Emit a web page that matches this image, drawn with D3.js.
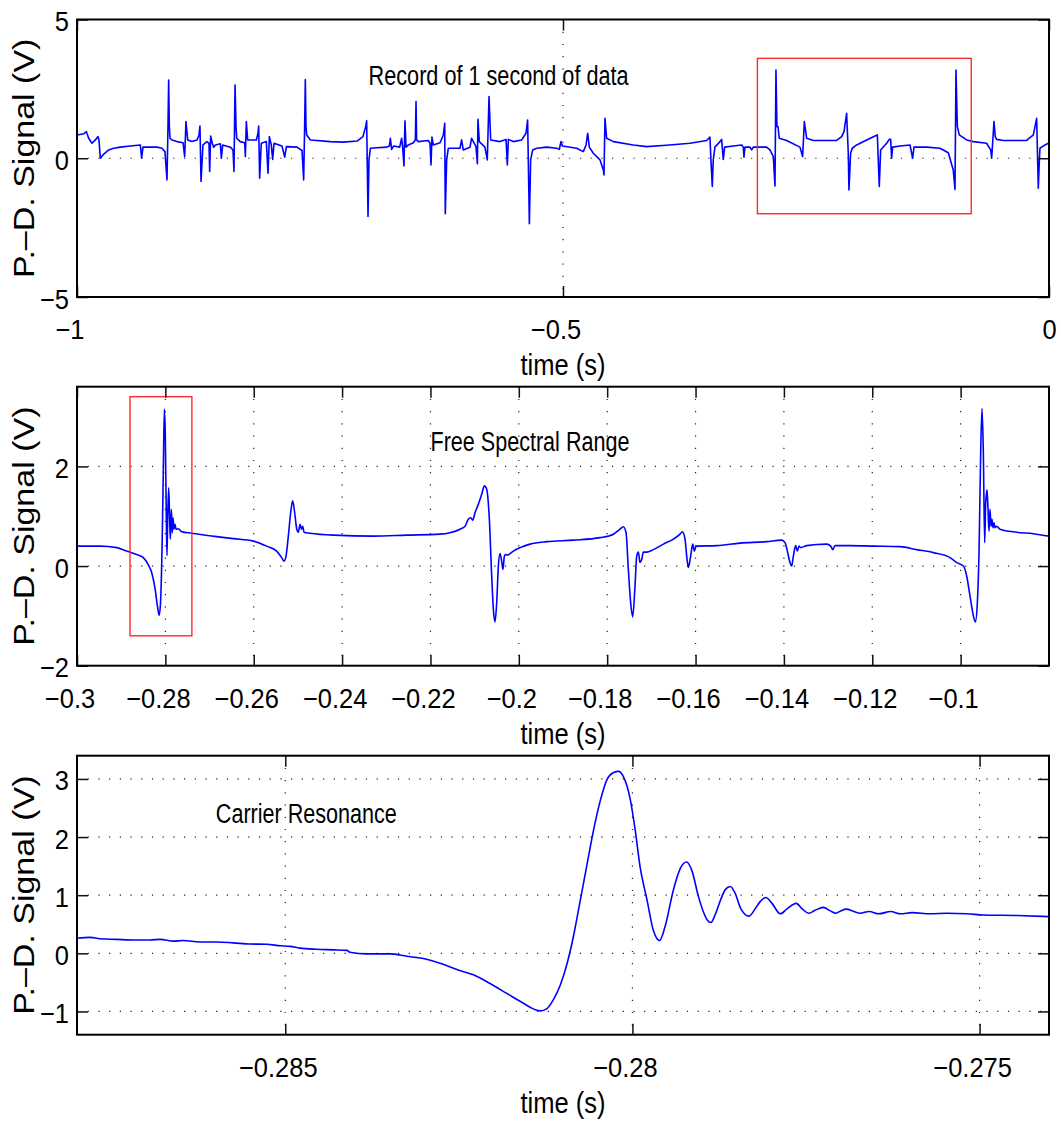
<!DOCTYPE html>
<html><head><meta charset="utf-8">
<script src="https://cdn.jsdelivr.net/npm/d3@7"></script>
<style>body{margin:0;background:#fff}svg{display:block}</style>
</head><body>
<svg id="chart" width="1061" height="1122"></svg>
<script>
// ---------- DATA (time in s, signal in V) ----------
const fullRecord = [[-1.0000,0.84],[-0.9931,0.88],[-0.9904,0.96],[-0.9880,0.72],[-0.9846,0.54],[-0.9811,0.66],[-0.9784,0.78],[-0.9774,0.66],[-0.9760,0.00],[-0.9733,0.12],[-0.9674,0.30],[-0.9623,0.36],[-0.9554,0.40],[-0.9451,0.44],[-0.9348,0.48],[-0.9335,0.00],[-0.9321,0.40],[-0.9177,0.40],[-0.9126,0.36],[-0.9095,0.24],[-0.9074,-0.78],[-0.9064,1.14],[-0.9057,2.82],[-0.9050,1.14],[-0.9043,0.72],[-0.9023,0.66],[-0.8971,0.60],[-0.8909,0.56],[-0.8892,0.06],[-0.8879,1.32],[-0.8861,0.66],[-0.8817,0.60],[-0.8765,0.66],[-0.8745,0.84],[-0.8735,1.16],[-0.8724,-0.84],[-0.8704,0.48],[-0.8663,0.60],[-0.8642,0.54],[-0.8635,-0.48],[-0.8625,0.80],[-0.8608,0.54],[-0.8594,0.40],[-0.8577,0.48],[-0.8525,0.52],[-0.8515,0.00],[-0.8501,0.48],[-0.8422,0.40],[-0.8395,0.30],[-0.8385,-0.48],[-0.8374,2.64],[-0.8364,1.14],[-0.8357,0.72],[-0.8320,0.60],[-0.8275,0.56],[-0.8268,0.06],[-0.8258,1.32],[-0.8244,0.66],[-0.8155,0.66],[-0.8138,0.90],[-0.8131,1.16],[-0.8121,-0.72],[-0.8104,0.54],[-0.8052,0.60],[-0.8035,-0.54],[-0.8021,0.78],[-0.8001,0.48],[-0.7987,-0.04],[-0.7973,0.54],[-0.7891,0.44],[-0.7863,0.04],[-0.7846,0.42],[-0.7737,0.40],[-0.7685,0.28],[-0.7668,-0.78],[-0.7658,1.14],[-0.7651,2.84],[-0.7644,1.14],[-0.7637,0.84],[-0.7599,0.66],[-0.7394,0.60],[-0.7257,0.58],[-0.7119,0.62],[-0.7058,0.78],[-0.7030,1.14],[-0.7020,1.35],[-0.7006,-2.10],[-0.6996,-0.06],[-0.6982,0.36],[-0.6914,0.38],[-0.6811,0.40],[-0.6787,0.44],[-0.6776,0.72],[-0.6763,0.32],[-0.6742,0.44],[-0.6680,0.40],
[-0.6660,0.72],[-0.6650,0.40],[-0.6636,-0.28],[-0.6626,1.35],[-0.6615,0.40],[-0.6591,0.48],[-0.6540,0.56],[-0.6519,0.66],[-0.6512,2.04],[-0.6506,0.66],[-0.6488,0.60],[-0.6386,0.64],[-0.6368,0.54],[-0.6358,-0.24],[-0.6348,0.76],[-0.6334,0.48],[-0.6265,0.56],[-0.6231,0.84],[-0.6217,1.26],[-0.6211,-2.00],[-0.6197,-0.06],[-0.6180,0.36],[-0.6060,0.36],[-0.6043,0.66],[-0.6026,0.30],[-0.5957,0.40],[-0.5940,0.72],[-0.5895,0.42],[-0.5881,-0.20],[-0.5875,1.40],[-0.5861,0.60],[-0.5803,0.40],[-0.5779,-0.06],[-0.5761,2.22],[-0.5744,0.66],[-0.5648,0.60],[-0.5586,0.68],[-0.5573,-0.24],[-0.5562,0.68],[-0.5511,0.60],[-0.5425,0.66],[-0.5381,0.90],[-0.5364,1.38],[-0.5346,-2.36],[-0.5333,-0.06],[-0.5312,0.30],[-0.5271,0.36],[-0.5168,0.40],[-0.5065,0.36],[-0.5038,0.32],[-0.5021,0.60],[-0.5007,0.44],[-0.4859,0.36],[-0.4791,0.24],[-0.4763,0.48],[-0.4746,0.90],[-0.4729,0.40],[-0.4688,0.18],[-0.4619,-0.06],[-0.4585,-0.42],[-0.4578,-0.60],[-0.4568,1.44],[-0.4551,0.72],[-0.4482,0.60],[-0.4277,0.48],[-0.4139,0.42],[-0.3934,0.47],[-0.3694,0.54],[-0.3522,0.64],[-0.3488,0.76],[-0.3478,-0.06],[-0.3464,-1.02],[-0.3454,-0.06],[-0.3437,0.40],[-0.3385,0.60],
[-0.3368,0.68],[-0.3351,-0.04],[-0.3337,0.40],[-0.3248,0.44],[-0.3162,0.48],[-0.3145,0.40],[-0.3138,0.04],[-0.3128,0.40],[-0.3076,0.40],[-0.3059,0.30],[-0.3042,0.40],[-0.2905,0.40],[-0.2871,0.30],[-0.2836,0.06],[-0.2819,-1.00],[-0.2809,3.18],[-0.2799,1.14],[-0.2788,1.14],[-0.2775,0.72],[-0.2699,0.64],[-0.2562,0.40],[-0.2535,0.06],[-0.2517,1.32],[-0.2493,0.72],[-0.2425,0.64],[-0.2185,0.64],[-0.2133,0.78],[-0.2109,0.96],[-0.2082,1.62],[-0.2065,0.18],[-0.2058,-1.14],[-0.2041,0.18],[-0.2024,0.36],[-0.1979,0.48],[-0.1876,0.66],[-0.1790,0.80],[-0.1766,0.84],[-0.1746,-1.02],[-0.1732,0.30],[-0.1670,0.54],[-0.1643,0.68],[-0.1629,0.68],[-0.1619,0.00],[-0.1609,0.40],[-0.1533,0.44],[-0.1430,0.48],[-0.1403,0.00],[-0.1389,0.40],[-0.1259,0.40],[-0.1122,0.36],[-0.1036,0.20],[-0.0985,-0.42],[-0.0967,-1.12],[-0.0957,3.18],[-0.0943,1.14],[-0.0923,0.84],[-0.0847,0.66],[-0.0779,0.60],[-0.0642,0.54],[-0.0600,0.30],[-0.0590,0.00],[-0.0580,0.54],[-0.0566,1.32],[-0.0553,0.78],[-0.0539,0.68],[-0.0470,0.64],[-0.0230,0.64],[-0.0161,0.84],[-0.0127,1.44],[-0.0117,-0.06],[-0.0110,-1.08],[-0.0099,-0.06],[-0.0093,0.36],[-0.0041,0.48],[-0.0007,0.54]];

const fsrTrace = [[-0.3000,0.40],[-0.2948,0.40],[-0.2910,0.37],[-0.2888,0.30],[-0.2865,0.23],[-0.2850,0.17],[-0.2839,0.03],[-0.2831,-0.13],[-0.2823,-0.47],[-0.2818,-0.80],[-0.2814,-0.99],[-0.2811,-0.74],[-0.2807,0.60],[-0.28046,1.94],[-0.28023,3.15],[-0.28001,2.61],[-0.27978,0.94],[-0.27963,0.21],[-0.27948,0.94],[-0.27925,1.57],[-0.27903,0.94],[-0.27887,0.54],[-0.27865,1.14],[-0.27842,0.67],[-0.27827,0.97],[-0.27804,0.74],[-0.27782,0.84],[-0.27759,0.74],[-0.27706,0.75],[-0.27631,0.69],[-0.27405,0.66],[-0.26839,0.59],[-0.26461,0.55],[-0.26009,0.50],[-0.25707,0.40],[-0.25481,0.30],[-0.25367,0.17],[-0.25315,0.10],[-0.25269,0.20],[-0.25217,0.60],[-0.25164,1.07],[-0.25119,1.31],[-0.25073,1.07],[-0.25028,0.75],[-0.24990,0.68],[-0.24953,0.84],[-0.24922,0.74],[-0.24892,0.80],[-0.24862,0.68],[-0.24726,0.66],[-0.24198,0.62],[-0.23292,0.60],[-0.22538,0.62],[-0.21784,0.64],[-0.21557,0.67],[-0.21331,0.74],[-0.21218,0.80],[-0.21142,0.94],[-0.21089,0.97],[-0.21044,0.92],[-0.20991,1.07],[-0.20916,1.24],[-0.20840,1.44],[-0.20780,1.61],[-0.20727,1.54],[-0.20667,0.94],[-0.20614,-0.20],[-0.20576,-0.87],[-0.20539,-1.12],[-0.20501,-0.74],[-0.20463,0.00],[-0.20425,0.25],[-0.20388,0.10],[-0.20358,-0.07],[-0.20327,0.20],[-0.20297,0.23],[-0.20252,0.22],[-0.20199,0.25],[-0.20124,0.30],[-0.19973,0.37],[-0.19746,0.44],[-0.19369,0.49],[-0.18766,0.52],[-0.18162,0.57],[-0.17860,0.64],[-0.17709,0.74],[-0.17634,0.79],[-0.17573,0.67],[-0.17521,-0.07],[-0.17468,-0.74],[-0.17423,-1.02],[-0.17370,-0.40],[-0.17332,0.20],[-0.17294,0.28],[-0.17257,0.07],[-0.17219,0.13],[-0.17181,0.28],[-0.17106,0.28],[-0.16955,0.33],[-0.16728,0.44],[-0.16502,0.54],[-0.16351,0.64],[-0.16298,0.69],[-0.16238,0.54],[-0.16200,0.20],[-0.16163,-0.03],[-0.16110,0.20],[-0.16065,0.44],[-0.16027,0.30],[-0.15989,0.40],[-0.15522,0.41],[-0.14994,0.46],[-0.14390,0.49],[-0.14051,0.52],[-0.13975,0.47],[-0.13922,0.30],[-0.13862,0.07],[-0.13824,0.00],[-0.13786,0.20],[-0.13734,0.41],[-0.13696,0.30],[-0.13658,0.40],[-0.13620,0.37],[-0.13485,0.41],[-0.13032,0.44],[-0.12941,0.40],[-0.12896,0.33],[-0.12843,0.41],[-0.12504,0.41],[-0.11976,0.40],[-0.11372,0.39],[-0.10995,0.33],[-0.10618,0.27],[-0.10240,0.17],[-0.10089,0.07],[-0.09938,0.00],[-0.09863,-0.20],[-0.09788,-0.60],[-0.09712,-1.00],[-0.09667,-1.12],[-0.09622,-0.74],[-0.09584,0.27],[-0.09546,2.28],[-0.09516,3.16],[-0.09486,2.28],[-0.09456,0.47],[-0.09433,1.27],[-0.09403,1.53],[-0.09380,1.14],[-0.09358,0.70],[-0.09335,1.14],[-0.09312,0.80],[-0.09290,0.94],[-0.09267,0.77],[-0.09244,0.87],[-0.09222,0.77],[-0.09184,0.80],[-0.09108,0.74],[-0.08731,0.68],[-0.08354,0.65],[-0.07999,0.60]];

const carrierTrace = [[-0.28800,0.26],[-0.28781,0.275],[-0.28767,0.25],[-0.28743,0.24],[-0.28719,0.23],[-0.28695,0.23],[-0.28680,0.24],[-0.28661,0.21],[-0.28647,0.22],[-0.28623,0.195],[-0.28599,0.195],[-0.28575,0.18],[-0.28551,0.16],[-0.28527,0.155],[-0.28507,0.13],[-0.28493,0.12],[-0.28479,0.09],[-0.28455,0.07],[-0.28431,0.06],[-0.28411,0.05],[-0.28407,0.02],[-0.28383,-0.01],[-0.28349,-0.01],[-0.28325,-0.05],[-0.28301,-0.09],[-0.28277,-0.17],[-0.28253,-0.28],[-0.28229,-0.37],[-0.28205,-0.52],[-0.28181,-0.69],[-0.28157,-0.86],[-0.28142,-0.96],[-0.28133,-0.99],[-0.28123,-0.95],[-0.28114,-0.80],[-0.28104,-0.55],[-0.28094,-0.17],[-0.28085,0.29],[-0.28075,0.92],[-0.28066,1.49],[-0.28056,2.12],[-0.28046,2.64],[-0.28037,2.98],[-0.28027,3.11],[-0.28020,3.13],[-0.28013,3.04],[-0.28003,2.64],[-0.27996,2.12],[-0.27989,1.49],[-0.27979,0.92],[-0.27970,0.40],[-0.27961,0.22],[-0.27953,0.46],[-0.27941,1.09],[-0.27931,1.46],[-0.27922,1.57],[-0.27914,1.41],[-0.27905,0.98],[-0.27897,0.69],[-0.27892,0.57],[-0.27887,0.53],[-0.27880,0.69],[-0.27873,0.92],[-0.27866,1.10],[-0.27859,1.15],[-0.27852,1.03],[-0.27844,0.77],[-0.27832,0.64],[-0.27823,0.77],[-0.27816,0.89],[-0.27808,0.96],[-0.27799,0.86],[-0.27787,0.68],[-0.27777,0.77],[-0.27764,0.86],[-0.27756,0.77],[-0.27746,0.69],[-0.27737,0.74],[-0.27725,0.79],[-0.27715,0.73],[-0.27707,0.69],[-0.27700,0.73],[-0.27692,0.76],[-0.27681,0.72],[-0.27672,0.69],[-0.27659,0.72],[-0.27645,0.68],[-0.27628,0.72],[-0.27614,0.68],[-0.27597,0.70],[-0.27571,0.68],[-0.27547,0.69],[-0.27518,0.68],[-0.27494,0.66],[-0.27446,0.65],[-0.27399,0.63]];

const xTicks1 = [-1, -0.5, 0];
const yTicks1 = [-5, 0, 5];
const xTicks2 = [-0.3, -0.28, -0.26, -0.24, -0.22, -0.2, -0.18, -0.16, -0.14, -0.12, -0.1];
const yTicks2 = [-2, 0, 2];
const xTicks3 = [-0.285, -0.28, -0.275];
const yTicks3 = [-1, 0, 1, 2, 3];

const xLim1 = [-1, 0],          yLim1 = [-5, 5];
const xLim2 = [-0.3, -0.08],    yLim2 = [-2, 3.6];
const xLim3 = [-0.288, -0.274], yLim3 = [-1.4, 3.4];

// zoom rectangles [t0, t1, v0, v1]
const zoomBox1 = [-0.3, -0.08, -2, 3.6];
const zoomBox2 = [-0.288, -0.274, -1.4, 3.4];

const notes = ["Record of 1 second of data", "Free Spectral Range", "Carrier Resonance"];
const noteAt = [[-0.7, 3.0], [-0.22, 2.5], [-0.286, 2.4]];
const noteWidth = [260, 199, 181];

const xLabel = "time (s)";
const yLabel = "P.\u2013D. Signal (V)";

// ---------- LAYOUT ----------
const svg = d3.select("#chart");
const FONT = "'Liberation Sans', Arial, Helvetica, sans-serif";
const L = 77, R = 1049;
const SX = 0.88;      // horizontal squeeze of title glyphs
const TSX = 0.91;     // horizontal squeeze of tick-label glyphs
const fmt = d3.format("~g");

const panels = [
  {data: fullRecord, xl: xLim1, yl: yLim1, xt: xTicks1, yt: yTicks1, top: 19.5, bottom: 297, box: zoomBox1, note: 0, curve: d3.curveLinear},
  {data: fsrTrace, xl: xLim2, yl: yLim2, xt: xTicks2, yt: yTicks2, top: 386.7, bottom: 665.7, box: zoomBox2, note: 1, curve: d3.curveMonotoneX},
  {data: carrierTrace, xl: xLim3, yl: yLim3, xt: xTicks3, yt: yTicks3, top: 755.7, bottom: 1034.7, box: null, note: 2, curve: d3.curveMonotoneX}
];

panels.forEach((p, i) => {
  const x = d3.scaleLinear().domain(p.xl).range([L, R]);
  const y = d3.scaleLinear().domain(p.yl).range([p.bottom, p.top]);
  const g = svg.append("g");

  // grid
  const gridX = p.xt.filter(t => Math.abs(x(t) - L) > 1 && Math.abs(x(t) - R) > 1);
  const gridY = p.yt.filter(v => Math.abs(y(v) - p.top) > 1 && Math.abs(y(v) - p.bottom) > 1);
  g.selectAll(".gx").data(gridX).join("line")
    .attr("x1", d => x(d)).attr("x2", d => x(d))
    .attr("y1", p.top).attr("y2", p.bottom)
    .attr("stroke", "#222").attr("stroke-width", 1.2).attr("stroke-dasharray", "1.2,11");
  g.selectAll(".gy").data(gridY).join("line")
    .attr("x1", L).attr("x2", R)
    .attr("y1", d => y(d)).attr("y2", d => y(d))
    .attr("stroke", "#222").attr("stroke-width", 1.2).attr("stroke-dasharray", "1.2,9.5");

  // data
  const cid = "clip" + i;
  svg.append("clipPath").attr("id", cid).append("rect")
    .attr("x", L).attr("y", p.top).attr("width", R - L).attr("height", p.bottom - p.top);
  g.append("path").datum(p.data)
    .attr("clip-path", `url(#${cid})`)
    .attr("fill", "none").attr("stroke", "#0000ff").attr("stroke-width", 1.6)
    .attr("stroke-linejoin", "round")
    .attr("d", d3.line().x(d => x(d[0])).y(d => y(d[1])).curve(p.curve));

  // zoom box
  if (p.box) {
    const b = p.box;
    g.append("rect")
      .attr("x", x(b[0])).attr("y", y(b[3]))
      .attr("width", x(b[1]) - x(b[0])).attr("height", y(b[2]) - y(b[3]))
      .attr("fill", "none").attr("stroke", "#ff2a2a").attr("stroke-width", 1.4);
  }

  // axes
  const styleAxis = sel => {
    sel.select(".domain").remove();
    sel.selectAll(".tick line").attr("stroke", "#111").attr("stroke-width", 1.5);
    sel.attr("font-family", FONT).attr("font-size", 28);
  };
  const bottomAx = g.append("g").attr("transform", `translate(0,${p.bottom})`)
    .call(d3.axisBottom(x).tickValues(p.xt).tickSize(-11).tickFormat(fmt)).call(styleAxis);
  bottomAx.selectAll("text")
    .attr("fill", "#000").attr("dy", null).attr("y", 42.5)
    .attr("x", d => (d < 0 ? -7.5 : 0) / TSX)
    .attr("transform", `scale(${TSX},1)`);
  g.append("g").attr("transform", `translate(0,${p.top})`)
    .call(d3.axisTop(x).tickValues(p.xt).tickSize(-11).tickFormat(() => "")).call(styleAxis)
    .selectAll("text").remove();
  const leftAx = g.append("g").attr("transform", `translate(${L},0)`)
    .call(d3.axisLeft(y).tickValues(p.yt).tickSize(-11).tickFormat(fmt)).call(styleAxis);
  leftAx.selectAll("text")
    .attr("fill", "#000").attr("dy", null).attr("y", 11)
    .attr("x", -8 / TSX).attr("text-anchor", "end")
    .attr("transform", `scale(${TSX},1)`);
  g.append("g").attr("transform", `translate(${R},0)`)
    .call(d3.axisRight(y).tickValues(p.yt).tickSize(-11).tickFormat(() => "")).call(styleAxis)
    .selectAll("text").remove();

  // frame
  g.append("rect").attr("x", L).attr("y", p.top)
    .attr("width", R - L).attr("height", p.bottom - p.top)
    .attr("fill", "none").attr("stroke", "#000").attr("stroke-width", 2);

  // annotation
  const n = noteAt[p.note];
  g.append("text").text(notes[p.note])
    .attr("x", x(n[0])).attr("y", y(n[1]) + 9.5)
    .attr("font-family", FONT).attr("font-size", 27).attr("fill", "#000")
    .attr("textLength", noteWidth[p.note]).attr("lengthAdjust", "spacingAndGlyphs");

  // axis titles
  g.append("text").text(xLabel)
    .attr("transform", `translate(${(L + R) / 2},${p.bottom + 78}) scale(${SX},1)`)
    .attr("text-anchor", "middle").attr("font-family", FONT).attr("font-size", 29).attr("fill", "#000");
  g.append("text").text(yLabel)
    .attr("transform", `translate(33.5,${(p.top + p.bottom) / 2}) rotate(-90) scale(1,${SX})`)
    .attr("text-anchor", "middle").attr("font-family", FONT).attr("font-size", 34).attr("fill", "#000");
});
</script>
</body></html>
